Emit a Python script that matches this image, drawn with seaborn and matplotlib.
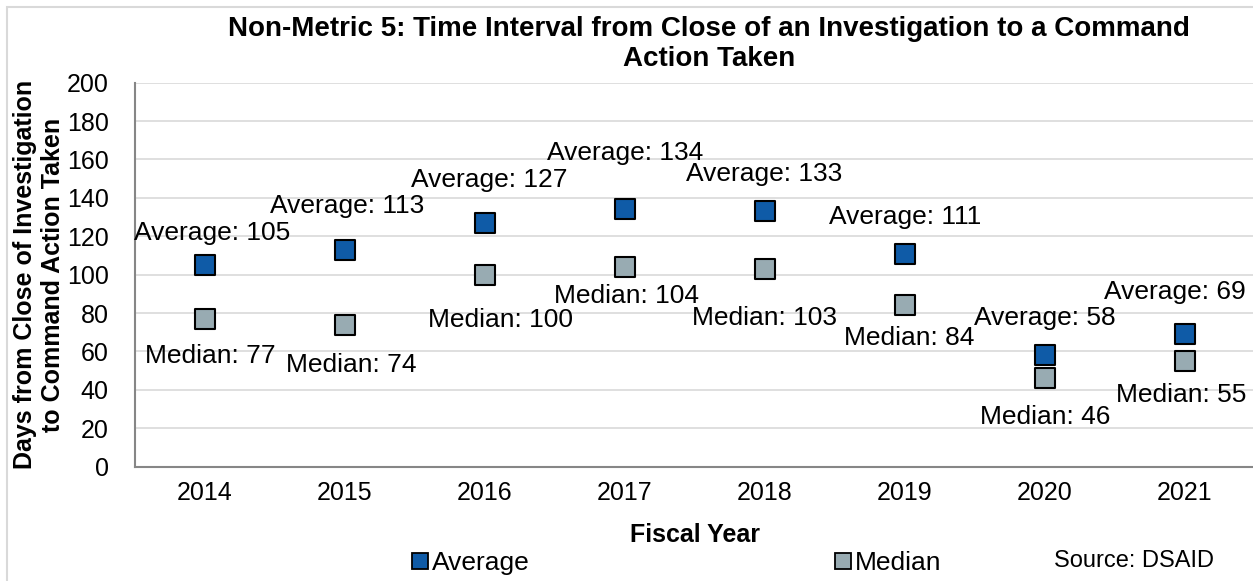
import pandas as pd
import matplotlib.pyplot as plt
import seaborn as sns
from matplotlib.lines import Line2D
from matplotlib.patches import Rectangle

years = ["2014", "2015", "2016", "2017", "2018", "2019", "2020", "2021"]
average = [105, 113, 127, 134, 133, 111, 58, 69]
median = [77, 74, 100, 104, 103, 84, 46, 55]

# label offsets in pixels (dx, dy) from marker centre, dy positive = up
avg_off = [(7, 32), (2, 44), (4, 43), (0, 56), (-1, 37), (0, 37), (0, 37), (-10, 42)]
med_off = [(5, -37), (6, -40), (15, -45), (1, -29), (0, -49), (4, -33), (0, -39), (-4, -34)]

blue = "#0F5BA7"
grey = "#98ABB2"

df = pd.DataFrame({
    "Fiscal Year": years * 2,
    "Days": average + median,
    "Series": ["Average"] * len(years) + ["Median"] * len(years),
})

sns.set_style("white")
plt.rcParams["font.family"] = ["Liberation Sans", "DejaVu Sans"]
plt.rcParams.update({"text.color": "black", "axes.labelcolor": "black",
                     "xtick.labelcolor": "black", "ytick.labelcolor": "black"})

fig = plt.figure(figsize=(12.53, 5.81), dpi=100)
W, H = 1253, 581
ax = fig.add_axes([135 / W, 1 - 466.7 / H, 1120 / W, (466.7 - 82.7) / H])

sns.scatterplot(data=df, x="Fiscal Year", y="Days", hue="Series",
                palette={"Average": blue, "Median": grey}, marker="s",
                s=210, edgecolor="black", linewidth=1.5, ax=ax, legend=False,
                zorder=3)

ax.set_xlim(-0.5, 7.5)
ax.set_ylim(0, 200)
ax.set_yticks(range(0, 201, 20))
ax.yaxis.grid(True, color="#D9D9D9", linewidth=1.2)
ax.set_axisbelow(True)
for s in ["top", "right"]:
    ax.spines[s].set_visible(False)
for s in ["left", "bottom"]:
    ax.spines[s].set_color("#868686")
    ax.spines[s].set_linewidth(1.5)

ax.set_xticks(range(len(years)))
ax.set_xticklabels(years)
ax.set_xticks([i - 0.5 for i in range(len(years) + 1)], minor=True)
ax.tick_params(axis="x", which="major", length=0, pad=10, labelsize=18)
ax.tick_params(axis="x", which="minor", length=7, width=1.3, color="#868686")
ax.tick_params(axis="y", length=7, width=1.3, color="#868686", labelsize=18, pad=12)

ax.set_xlabel("Fiscal Year", fontsize=18, fontweight="bold", labelpad=13)
ax.set_ylabel("Days from Close of Investigation\nto Command Action Taken",
              fontsize=18, fontweight="bold", labelpad=1, linespacing=1.25)

for i in range(len(years)):
    dx, dy = avg_off[i]
    ax.annotate(f"Average: {average[i]}", (i, average[i]),
                xytext=(dx * 0.72, dy * 0.72), textcoords="offset points",
                ha="center", va="center", fontsize=19)
    dx, dy = med_off[i]
    ax.annotate(f"Median: {median[i]}", (i, median[i]),
                xytext=(dx * 0.72, dy * 0.72), textcoords="offset points",
                ha="center", va="center", fontsize=19)

fig.text(709 / W, 1 - 44 / H,
         "Non-Metric 5: Time Interval from Close of an Investigation to a Command\nAction Taken",
         ha="center", va="center", fontsize=20, fontweight="bold", linespacing=1.25)

handles = [Line2D([], [], marker="s", linestyle="none", markersize=12,
                  markerfacecolor=c, markeredgecolor="black", markeredgewidth=1.3)
           for c in (blue, grey)]
fig.legend(handles, ["Average", "Median"], loc="center", ncol=2,
           bbox_to_anchor=(676 / W, 1 - 563 / H), frameon=False,
           fontsize=19, handlelength=0.7, handletextpad=0.1, columnspacing=11.5)

fig.text(1134 / W, 1 - 561 / H, "Source: DSAID", ha="center", va="center",
         fontsize=17)

fig.patches.append(Rectangle((7 / W, -0.1), 1.2, 1 - 7 / H + 0.1,
                             transform=fig.transFigure, fill=False,
                             edgecolor="#D9D9D9", linewidth=1.5))

fig.savefig("out.png", dpi=100)
